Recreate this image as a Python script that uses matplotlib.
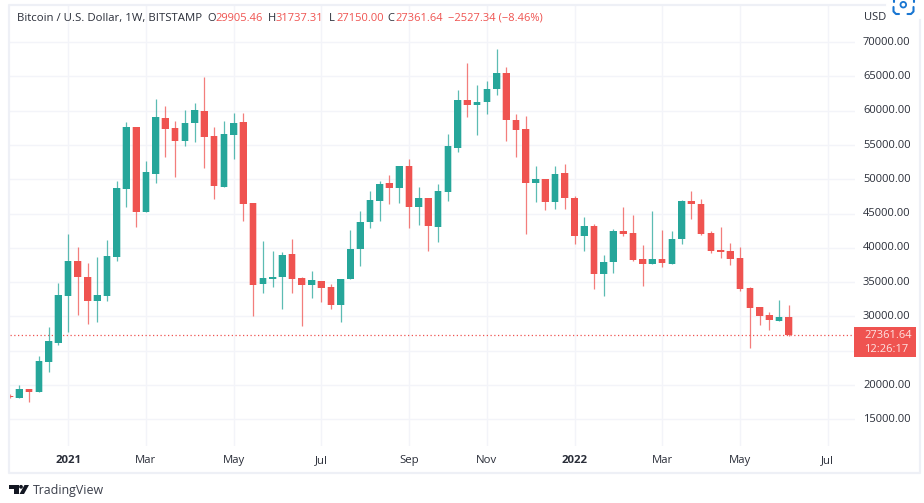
import numpy as np
import matplotlib
matplotlib.use("Agg")
import matplotlib.pyplot as plt
from matplotlib.lines import Line2D
from matplotlib.patches import Rectangle, Polygon, Circle
from matplotlib.transforms import IdentityTransform

plt.rcParams["font.family"] = ["Open Sans", "DejaVu Sans"]

GREEN = "#26a69a"
RED = "#ef5350"
GRID = "#f3f4f9"
TXT = "#2a2e39"
BLUE = "#1976d2"

# weekly candles, first one is the week of 2020-11-30
opens = [18450, 18070, 19431, 18993, 23368, 26089, 33039, 38142, 35809, 32213, 33039,
         38725, 48616, 57607, 45165, 50852, 58968, 57461, 55663, 58190, 59940, 56343,
         48956, 56489, 58385, 46526, 34740, 35517, 35712, 39114, 35615, 34600, 35232,
         34260, 31684, 35426, 39849, 43737, 46896, 49423, 48743, 51902, 45972, 47285,
         43056, 48159, 54575, 61573, 60795, 61233, 63177, 65461, 58657, 57296, 49423,
         50055, 46653, 50881, 47334, 41793, 43153, 36200, 37901, 42469, 42129, 38387,
         37609, 38387, 37609, 41254, 46892, 46454, 42129, 39699, 39505, 38532, 34159,
         31340, 30222, 29396, 29905.46]
closes = [18200, 19431, 18993, 23465, 26381, 33136, 38142, 35712, 32213, 33136, 38822,
          48713, 57607, 45165, 51095, 59114, 57364, 55663, 58287, 60086, 56246, 49053,
          56635, 58287, 46429, 34594, 35615, 35809, 38968, 35517, 34594, 35329, 34211,
          31684, 35523, 39800, 43834, 47042, 49374, 48694, 51902, 45972, 47285, 43202,
          48256, 54818, 61573, 60795, 61281, 63225, 65461, 58608, 57199, 49423, 50055,
          46653, 50735, 47334, 41793, 43153, 36204, 37998, 42469, 42032, 38290, 37609,
          38387, 37755, 41303, 46892, 46357, 42032, 39553, 39456, 38435, 34061, 31243,
          30125, 29444, 29979, 27361.64]
highs = [18650, 20014, 19431, 24242, 28422, 34837, 42006, 40111, 37850, 38725, 41083,
         49831, 58433, 57607, 52698, 61738, 60669, 58530, 60086, 61203, 64897, 57704,
         58530, 59648, 59648, 46623, 40937, 39551, 39357, 41326, 35712, 36641, 35232,
         34697, 35523, 42619, 45389, 48305, 49812, 50638, 51902, 52971, 48840, 47285,
         49277, 56616, 62982, 67016, 63760, 64343, 68960, 66433, 59483, 59240, 51999,
         50055, 51902, 52193, 47577, 44514, 43542, 38970, 42712, 45920, 44802, 40379,
         45337, 42615, 42469, 46989, 48253, 47183, 42469, 43004, 40768, 40088, 34256,
         31340, 30611, 32458, 31737.31]
lows = [18100, 18070, 17584, 18993, 21958, 25846, 27790, 30220, 28908, 29151, 32310,
        38142, 45992, 43076, 45165, 49442, 53330, 50414, 54934, 55517, 51629, 47061,
        48956, 53039, 43902, 30123, 33476, 34351, 31095, 33476, 28616, 32753, 32170,
        31149, 29254, 35426, 37370, 42911, 43980, 46361, 46604, 42911, 43396, 39606,
        40821, 46896, 54040, 59094, 56519, 59580, 62351, 55644, 53311, 42084, 46750,
        45535, 45681, 45681, 40529, 39606, 34017, 33041, 36394, 41789, 38144, 34450,
        37609, 37220, 37609, 40525, 44268, 41886, 39310, 38581, 37463, 33770, 25411,
        28764, 28035, 29299, 27150]

# bar number of each time label
tick_bars = [6, 14, 23, 32, 41, 49, 58, 67, 75, 84]
tick_labels = ["2021", "Mar", "May", "Jul", "Sep", "Nov", "2022", "Mar", "May", "Jul"]
price_ticks = list(range(15000, 70001, 5000))
price_labels = ["%d.00" % p for p in price_ticks]
price_labels[price_ticks.index(25000)] = ""
last_price = 27361.64

W, H = 924, 503
fig = plt.figure(figsize=(W / 100, H / 100), dpi=100, facecolor="white")
ax = fig.add_axes([10 / W, 1 - 446 / H, 845 / W, 441 / H])

opens, closes, highs, lows = map(np.array, (opens, closes, highs, lows))
x = np.arange(len(opens))
cols = [GREEN if c >= o else RED for o, c in zip(opens, closes)]
ax.vlines(x, lows, highs, colors=cols, lw=0.9, alpha=0.75, zorder=3)
# soft halo round the bodies, the source image is a bit blurred
ax.bar(x, closes - opens, bottom=opens, width=0.82, color=cols, linewidth=0, alpha=0.3, zorder=3.5)
ax.bar(x, closes - opens, bottom=opens, width=0.68, color=cols, linewidth=0, zorder=4)
ax.axhline(last_price, color=RED, lw=0.9, ls=(0, (1, 2)), zorder=2)

ax.set_xlim(0.04, 86.8)
ax.set_ylim(11113, 75425)
ax.set_xticks(tick_bars)
ax.set_xticklabels([])
ax.set_yticks(price_ticks)
ax.set_yticklabels([])
ax.grid(True, color=GRID, lw=1)
ax.set_axisbelow(True)
ax.tick_params(length=0)
for s in ax.spines.values():
    s.set_visible(False)


def px(xp, yp):
    return xp / W, 1 - yp / H


def fig_line(points, **kw):
    xs = [p[0] / W for p in points]
    ys = [1 - p[1] / H for p in points]
    fig.add_artist(Line2D(xs, ys, **kw))


# time labels under the plot
for b, lab in zip(tick_bars, tick_labels):
    bold = lab.isdigit()
    ax.annotate(lab, (b, 0), xycoords=("data", "axes fraction"), xytext=(0, -14.5),
                textcoords="offset pixels", ha="center", va="center", fontsize=8.2,
                color=TXT, fontweight="bold" if bold else "normal")

# price labels
for p, lab in zip(price_ticks, price_labels):
    ax.annotate(lab, (1, p), xycoords=("axes fraction", "data"), xytext=(8, 0),
                textcoords="offset pixels", ha="left", va="center", fontsize=8.0, color=TXT)
fig.text(*px(864, 17.5), "USD", fontsize=8.0, color=TXT, va="center")

# outer frame, the top edge stops before the camera icon
frame = dict(color="#eef0f6", lw=1.6)
fig_line([(885, 5), (9, 5), (9, 473), (920, 473), (920, 20)], **frame)

# camera icon, cut by the top of the picture
icon = dict(color=BLUE, lw=1.5, solid_capstyle="round")
fig_line([(893.5, 7), (893.5, 11.5), (896, 14), (899, 14)], **icon)
fig_line([(907.5, 14), (911, 14), (913.5, 11.5), (913.5, 7)], **icon)
fig_line([(893.5, 0), (893.5, 2)], **icon)
fig_line([(913.5, 0), (913.5, 2)], **icon)
fig.add_artist(Circle((903.3, H - 4.7), 2.8, transform=IdentityTransform(), fill=False, ec=BLUE, lw=1.3))

# last price tag
fig.add_artist(Rectangle(px(854, 356.7), 62 / W, 29.4 / H, fc=RED, ec="none", zorder=6))
fig.text(*px(864, 336), "27361.64", fontsize=8.0, color="#fde3e2", va="center", zorder=7)
fig.text(*px(864, 350), "12:26:17", fontsize=8.0, color="#fde3e2", va="center", zorder=7)

# header line
fig.text(*px(17, 18.5), "Bitcoin / U.S. Dollar, 1W, BITSTAMP", fontsize=8.2, color=TXT, va="center")
head = [(207.7, "O", TXT), (215.7, "29905.46", RED), (268.3, "H", TXT), (276, "31737.31", RED),
        (329, "L", TXT), (336.7, "27150.00", RED), (387, "C", TXT), (395, "27361.64", RED),
        (447.7, "\u22122527.34 (\u22128.46%)", RED)]
for xp, s, c in head:
    fig.text(*px(xp, 18.5), s, fontsize=8.0, color=c, va="center")

# TradingView logo and name
dark = "#131722"
fig.add_artist(Polygon([px(9.3, 485), px(18.5, 485), px(18.5, 494), px(14, 494), px(14, 488.5), px(9.3, 488.5)], fc=dark, ec="none"))
fig.add_artist(Circle((21, H - 486.8), 1.9, transform=IdentityTransform(), fc=dark, ec="none"))
fig.add_artist(Polygon([px(24.5, 485), px(29, 485), px(24, 494), px(19.5, 494)], fc=dark, ec="none"))
fig.text(*px(33, 490.5), "TradingView", fontsize=8.9, color="#3a3e4a", va="center")

fig.savefig("out.png", dpi=100)
